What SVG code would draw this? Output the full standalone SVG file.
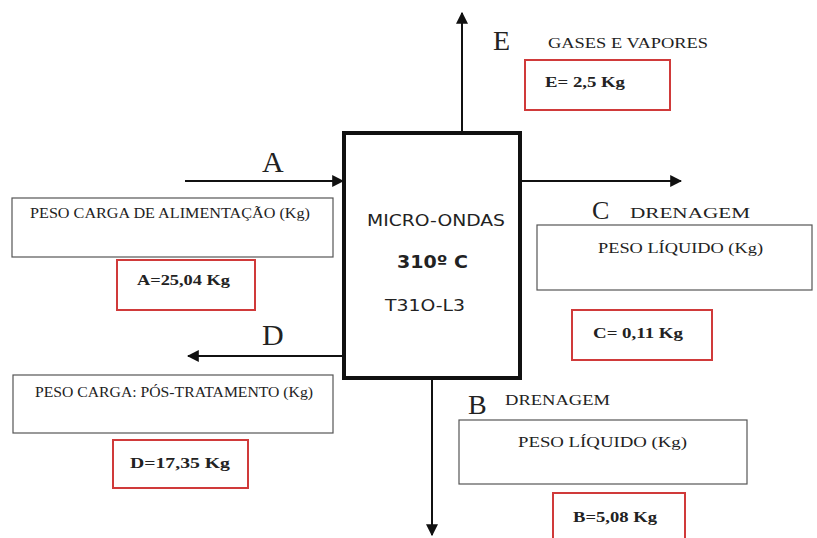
<svg xmlns="http://www.w3.org/2000/svg" width="817" height="538" viewBox="0 0 817 538">
<style>
.serif{font-family:"Liberation Serif","Times New Roman",serif;fill:#222}
.big{font-family:"Liberation Serif","Times New Roman",serif;fill:#222}
.lbl{font-size:15px}
.val{font-size:15px;font-weight:bold}
.sans{font-family:"DejaVu Sans",Verdana,sans-serif;fill:#222}
.gbox{fill:#fff;stroke:#555;stroke-width:1.2}
.rbox{fill:#fff;stroke:#d03a3a;stroke-width:2}
.conn{stroke:#111;stroke-width:2;fill:none}
</style>
<defs>
<marker id="ahL" viewBox="0 0 10 10" refX="9" refY="5" markerWidth="12" markerHeight="12" markerUnits="userSpaceOnUse" orient="auto">
<path d="M0,0 L10,5 L0,10 z" fill="#111"/>
</marker>
</defs>
<rect width="817" height="538" fill="#fff"/>
<g id="connectors">
<line class="conn" x1="185" y1="181" x2="343" y2="181" marker-end="url(#ahL)"/>
<line class="conn" x1="521" y1="181" x2="681" y2="181" marker-end="url(#ahL)"/>
<line class="conn" x1="462" y1="131" x2="462" y2="13" marker-end="url(#ahL)"/>
<line class="conn" x1="343" y1="356" x2="188" y2="356" marker-end="url(#ahL)"/>
<line class="conn" x1="432" y1="380" x2="432" y2="535" marker-end="url(#ahL)"/>
</g>
<g id="reactor">
<rect x="344" y="133" width="176" height="245" fill="#fff" stroke="#111" stroke-width="4"/>
<text class="sans" x="367" y="226" style="font-size:16px" textLength="138" lengthAdjust="spacingAndGlyphs">MICRO-ONDAS</text>
<text class="sans" x="397" y="268" style="font-size:17px;font-weight:bold" textLength="71" lengthAdjust="spacingAndGlyphs">310º C</text>
<text class="sans" x="385" y="311" style="font-size:16px" textLength="80" lengthAdjust="spacingAndGlyphs">T31O-L3</text>
</g>
<g id="stream-A">
<text class="big" x="262" y="172" style="font-size:30px">A</text>
<rect class="gbox" x="12" y="198" width="321" height="59"/>
<text class="serif lbl" x="30" y="218" textLength="280" lengthAdjust="spacingAndGlyphs">PESO CARGA DE ALIMENTAÇÃO (Kg)</text>
<rect class="rbox" x="117" y="260" width="138" height="50"/>
<text class="serif val" x="137" y="285" textLength="93" lengthAdjust="spacingAndGlyphs">A=25,04 Kg</text>
</g>
<g id="stream-D">
<text class="big" x="262" y="345" style="font-size:30px">D</text>
<rect class="gbox" x="13" y="375" width="320" height="58"/>
<text class="serif lbl" x="35" y="397" textLength="278" lengthAdjust="spacingAndGlyphs">PESO CARGA: PÓS-TRATAMENTO (Kg)</text>
<rect class="rbox" x="113" y="440" width="135" height="48"/>
<text class="serif val" x="130" y="468" textLength="100" lengthAdjust="spacingAndGlyphs">D=17,35 Kg</text>
</g>
<g id="stream-E">
<text class="big" x="493" y="50" style="font-size:28px">E</text>
<text class="serif lbl" x="548" y="48" textLength="160" lengthAdjust="spacingAndGlyphs">GASES E VAPORES</text>
<rect class="rbox" x="525" y="60" width="145" height="50"/>
<text class="serif val" x="545" y="87" textLength="80" lengthAdjust="spacingAndGlyphs">E= 2,5 Kg</text>
</g>
<g id="stream-C">
<text class="big" x="592" y="219" style="font-size:26px">C</text>
<text class="serif lbl" x="630" y="218" textLength="120" lengthAdjust="spacingAndGlyphs">DRENAGEM</text>
<rect class="gbox" x="537" y="225" width="275" height="65"/>
<text class="serif lbl" x="598" y="253" textLength="165" lengthAdjust="spacingAndGlyphs">PESO LÍQUIDO (Kg)</text>
<rect class="rbox" x="572" y="310" width="140" height="50"/>
<text class="serif val" x="593" y="338" textLength="90" lengthAdjust="spacingAndGlyphs">C= 0,11 Kg</text>
</g>
<g id="stream-B">
<text class="big" x="468" y="414" style="font-size:28px">B</text>
<text class="serif lbl" x="505" y="405" textLength="105" lengthAdjust="spacingAndGlyphs">DRENAGEM</text>
<rect class="gbox" x="459" y="420" width="288" height="64"/>
<text class="serif lbl" x="518" y="447" textLength="169" lengthAdjust="spacingAndGlyphs">PESO LÍQUIDO (Kg)</text>
<rect class="rbox" x="553" y="493" width="132" height="50"/>
<text class="serif val" x="573" y="522" textLength="84" lengthAdjust="spacingAndGlyphs">B=5,08 Kg</text>
</g>
</svg>
